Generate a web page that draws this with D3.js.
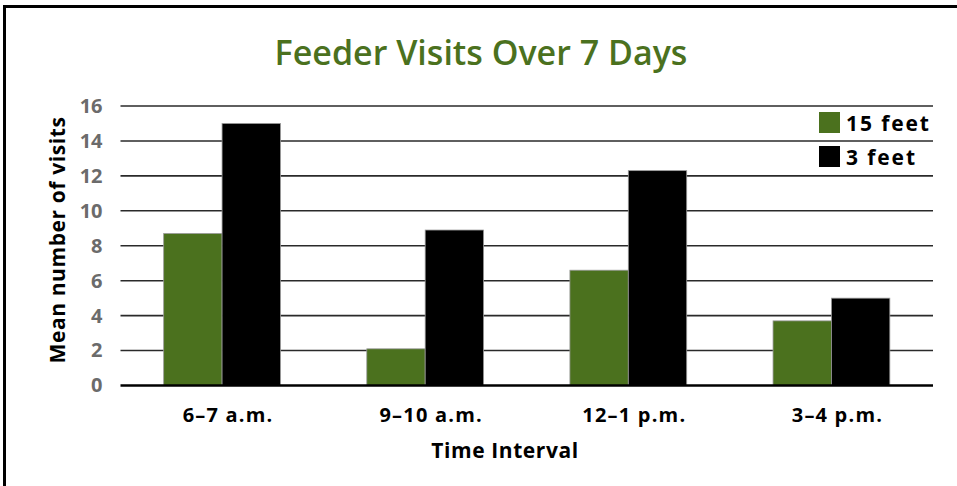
<!DOCTYPE html>
<html>
<head>
<meta charset="utf-8">
<script src="https://cdn.jsdelivr.net/npm/d3@7"></script>
<style>
    body { margin: 0; background: #fff; }
    svg { display: block; }
    .title { font-family: "Open Sans", sans-serif; font-size: 34px; font-weight: 600; fill: #4b711e; }
    .tick-y { font-family: "Open Sans", sans-serif; font-size: 20px; font-weight: 700; fill: #6b6b6b; }
    .tick-x { font-family: "Open Sans", sans-serif; font-size: 20px; font-weight: 700; fill: #000; letter-spacing: 1.2px; }
    .axis-title { font-family: "Open Sans", sans-serif; font-size: 21px; font-weight: 700; fill: #000; letter-spacing: 0.6px; }
    .legend-label { font-family: "Open Sans", sans-serif; font-size: 21px; font-weight: 700; fill: #000; letter-spacing: 1.9px; }
</style>
</head>
<body>
<svg id="chart" width="957" height="486"></svg>
<script>
    // chart data
    const categories = ["6–7 a.m.", "9–10 a.m.", "12–1 p.m.", "3–4 p.m."];
    const seriesNames = ["15 feet", "3 feet"];
    const feet15 = [8.7, 2.1, 6.6, 3.7];
    const feet3 = [15.0, 8.9, 12.3, 5.0];
    const yTicks = [0, 2, 4, 6, 8, 10, 12, 14, 16];
    const colors = ["#4b711e", "#000000"];

    const rows = categories.map((c, i) => ({ cat: c, values: [feet15[i], feet3[i]] }));

    const svg = d3.select("#chart");
    const margin = { top: 106, right: 24, bottom: 100.5, left: 120.5 };
    const W = 957, H = 486;
    const innerW = W - margin.left - margin.right;
    const innerH = H - margin.top - margin.bottom;

    // outer frame (only top and left edges show inside the window)
    svg.append("rect")
        .attr("x", 4.5).attr("y", 6.5)
        .attr("width", 1000).attr("height", 600)
        .attr("fill", "none")
        .attr("stroke", "#000")
        .attr("stroke-width", 3);

    svg.append("text")
        .attr("class", "title")
        .attr("x", 481).attr("y", 65)
        .attr("text-anchor", "middle")
        .text("Feeder Visits Over 7 Days");

    const g = svg.append("g")
        .attr("transform", `translate(${margin.left},${margin.top})`);

    const x = d3.scaleBand()
        .domain(categories)
        .range([0, innerW])
        .paddingInner(0.425)
        .paddingOuter(0.2125);

    const xs = d3.scaleBand()
        .domain(seriesNames)
        .range([0, x.bandwidth()])
        .padding(0);

    const y = d3.scaleLinear()
        .domain([0, 16])
        .range([innerH, 0]);

    // gridlines
    g.selectAll(".grid")
        .data(yTicks.filter((d) => d > 0))
        .enter()
        .append("line")
        .attr("x1", 0).attr("x2", innerW)
        .attr("y1", (d) => y(d)).attr("y2", (d) => y(d))
        .attr("stroke", "#2a2a2a")
        .attr("stroke-width", 1.6);

    // bars
    const groups = g.selectAll(".grp")
        .data(rows)
        .enter()
        .append("g")
        .attr("transform", (d) => `translate(${x(d.cat)},0)`);

    groups.selectAll("rect")
        .data((d) => d.values.map((v, i) => ({ name: seriesNames[i], v: v, i: i })))
        .enter()
        .append("rect")
        .attr("x", (d) => xs(d.name))
        .attr("y", (d) => y(d.v))
        .attr("width", xs.bandwidth())
        .attr("height", (d) => y(0) - y(d.v))
        .attr("fill", (d) => colors[d.i])
        .attr("stroke", "#9a9a9a")
        .attr("stroke-width", 0.8);

    // baseline
    g.append("line")
        .attr("x1", 0).attr("x2", innerW)
        .attr("y1", y(0)).attr("y2", y(0))
        .attr("stroke", "#000")
        .attr("stroke-width", 2.5);

    // y tick labels
    const yAxis = d3.axisLeft(y).tickValues(yTicks).tickSize(0).tickPadding(18);
    const ya = g.append("g").call(yAxis)
        .attr("font-family", null).attr("font-size", null);
    ya.select(".domain").remove();
    ya.selectAll("text")
        .attr("class", "tick-y")
        .attr("fill", null);

    // x tick labels
    const xAxis = d3.axisBottom(x).tickSize(0).tickPadding(22);
    const xa = g.append("g").attr("transform", `translate(0,${innerH})`).call(xAxis)
        .attr("font-family", null).attr("font-size", null);
    xa.select(".domain").remove();
    xa.selectAll("text")
        .attr("class", "tick-x")
        .attr("fill", null)
        .attr("dx", "0.3em");

    // axis titles
    svg.append("text")
        .attr("class", "axis-title")
        .attr("transform", "translate(65,240) rotate(-90)")
        .attr("text-anchor", "middle")
        .text("Mean number of visits");

    svg.append("text")
        .attr("class", "axis-title")
        .attr("x", 505).attr("y", 458)
        .attr("text-anchor", "middle")
        .text("Time Interval");

    // legend
    const legend = svg.append("g").attr("transform", "translate(819,112)");
    const items = legend.selectAll(".item")
        .data(seriesNames)
        .enter()
        .append("g")
        .attr("transform", (d, i) => `translate(0,${i * 34})`);
    items.append("rect")
        .attr("width", 21).attr("height", 21)
        .attr("fill", (d, i) => colors[i]);
    items.append("text")
        .attr("class", "legend-label")
        .attr("x", 27).attr("y", 19)
        .text((d) => d);
</script>
</body>
</html>
